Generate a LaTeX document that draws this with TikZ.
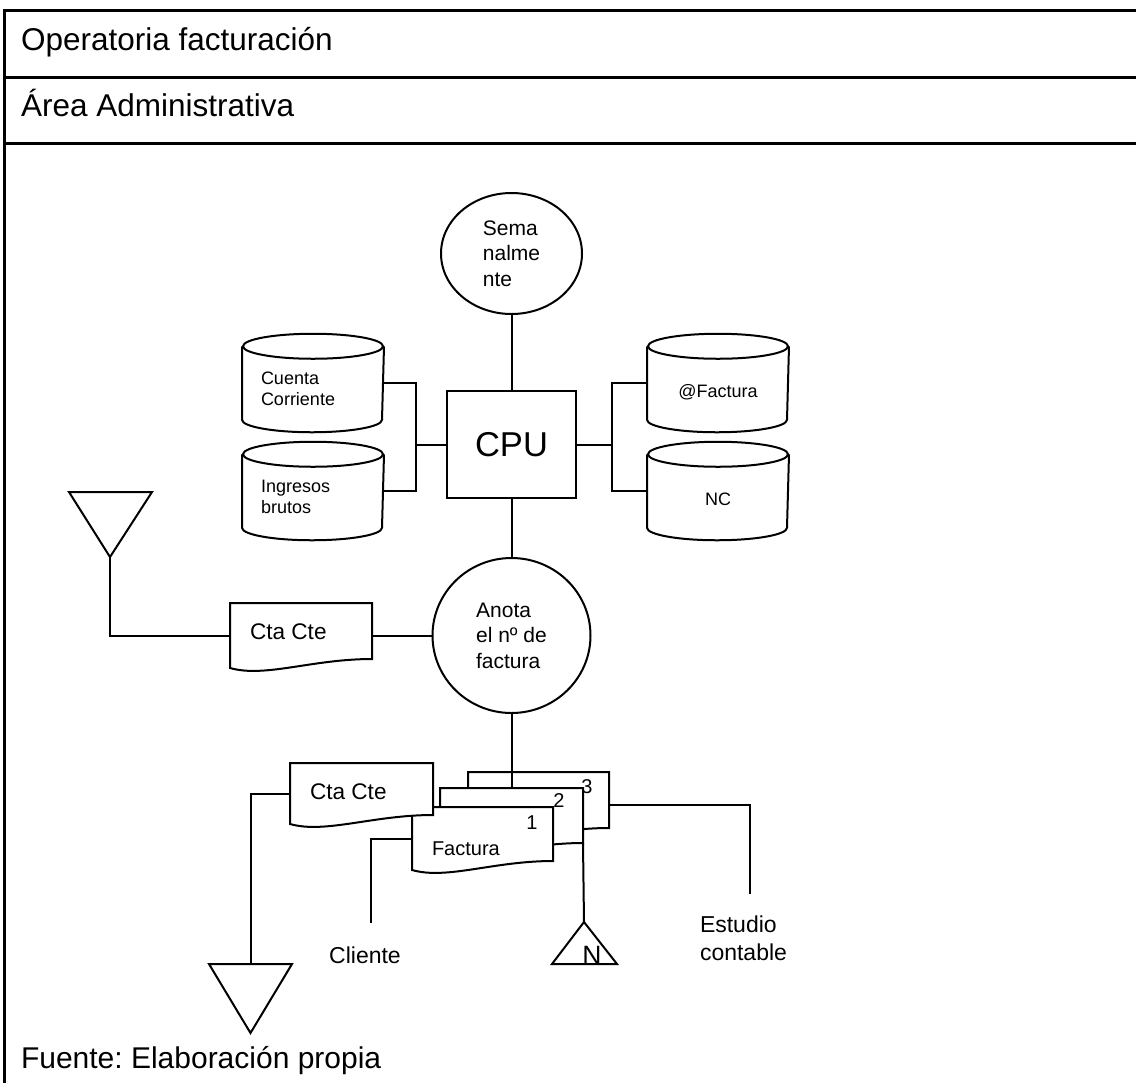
\documentclass[tikz,border=0pt]{standalone}
\usepackage{fontspec}
\setmainfont{Liberation Sans}
\usetikzlibrary{shapes.geometric}
\frenchspacing

\begin{document}
\begin{tikzpicture}[x=0.5pt,y=-0.5pt,line width=1pt,
	frame line/.style={line width=1.5pt},
	proc node/.style={ellipse,draw,inner sep=0pt,align=left,font=\fontsize{10.5}{12.75}\selectfont},
	cpu node/.style={rectangle,draw,inner sep=0pt,minimum width=64.5pt,minimum height=53.5pt,font=\fontsize{17.25}{20}\selectfont},
	db node/.style={rectangle,inner sep=0pt,minimum width=70pt,minimum height=35.75pt},
	db text/.style={align=left,inner sep=0pt,font=\fontsize{9}{10.75}\selectfont},
	doc node/.style={rectangle,inner sep=0pt},
	doc text/.style={inner sep=0pt,anchor=west,font=\fontsize{11.3}{13}\selectfont},
	num text/.style={inner sep=0pt,font=\fontsize{10}{12}\selectfont},
	dest text/.style={inner sep=0pt,align=left,font=\fontsize{11.5}{14}\selectfont},
	head text/.style={inner sep=0pt,anchor=base west,font=\fontsize{15.75}{19}\selectfont}]

	\useasboundingbox (0,0) rectangle (1136,1083);

	% table frame
	\draw[frame line] (1136,10) -- (4,10) -- (4,1083);
	\draw[frame line] (4,77) -- (1136,77);
	\draw[frame line] (4,143) -- (1136,143);
	\node[head text] (tit) at (20,50) {Operatoria facturación};
	\node[head text] (area) at (20,116) {Área Administrativa};
	\node[head text,font=\fontsize{15}{18}\selectfont] (src) at (20,1068) {Fuente: Elaboración propia};

	% process and files
	\node[proc node,minimum width=70.5pt,minimum height=60.5pt] (sem) at (511.5,253.5) {Sema\\nalme\\nte};
	\node[cpu node] (cpu) at (511.5,444.5) {CPU};
	\node[db node] (cc) at (313,383) {};
	\node[db node] (ib) at (313,491) {};
	\node[db node] (fa) at (718,383) {};
	\node[db node] (nc) at (718,491) {};
	\node[proc node,minimum width=79pt,minimum height=77.5pt] (an) at (511.5,635.5) {Anota\\el nº de\\factura};

	\foreach \n in {cc,ib,fa,nc}{
		\draw (\n.north west) -- (\n.south west) arc[start angle=180,end angle=0,x radius=70,y radius=12.5] -- (\n.north east);
		\draw (\n.north) ellipse[x radius=70,y radius=12.5];
	}

	% documents
	\node[doc node,minimum width=70pt,minimum height=31.5pt] (cta) at (301,635.5) {};
	\node[doc node,minimum width=69.5pt,minimum height=31.5pt] (d3) at (538.5,804.5) {};
	\node[doc node,minimum width=70.5pt,minimum height=31pt] (d2) at (511.5,820) {};
	\node[doc node,minimum width=69.5pt,minimum height=30.5pt] (d1) at (482.5,838.5) {};
	\node[doc node,minimum width=70.5pt,minimum height=29.5pt] (ctb) at (361.5,793.5) {};

	\foreach \n in {cta,d3,d2,d1,ctb}{
		\draw[fill=white] (\n.south west) -- (\n.north west) -- (\n.north east) -- ([yshift=4.5pt]\n.south east)
			.. controls ([shift={(-60,-9)}]\n.south east) and ([shift={(35,10)}]\n.south west) .. (\n.south west) -- cycle;
	}

	% archives
	\coordinate (t1) at (110,557);
	\draw (t1) -- (69,492) -- (152,492) -- cycle;
	\coordinate (t2) at (250.5,964);
	\draw (209,964) -- (292,964) -- (250.5,1033) -- cycle;
	\coordinate (tn) at (584,922);
	\draw (tn) -- (552,964) -- (617,964) -- cycle;

	% texts
	\node[db text,anchor=west] at ([shift={(18,6)}]cc.west) {Cuenta\\Corriente};
	\node[db text,anchor=west] at ([shift={(18,6)}]ib.west) {Ingresos\\brutos};
	\node[db text] at ([shift={(0,9)}]fa.center) {@Factura};
	\node[db text] at ([shift={(0,8)}]nc.center) {NC};
	\node[doc text] at ([shift={(19,-3.5)}]cta.west) {Cta Cte};
	\node[doc text] at ([shift={(19,-1.5)}]ctb.west) {Cta Cte};
	\node[doc text,font=\fontsize{10}{12}\selectfont] at ([shift={(19,10.5)}]d1.west) {Factura};
	\node[num text] at ([shift={(-21,16)}]d1.north east) {1};
	\node[num text] at ([shift={(-24,13)}]d2.north east) {2};
	\node[num text] at ([shift={(-22,15)}]d3.north east) {3};
	\node[dest text] (cli) at (365,955) {Cliente};
	\node[dest text,anchor=west] (est) at (699,938.5) {Estudio\\contable};
	\node[inner sep=0pt,anchor=base,font=\fontsize{13.25}{15}\selectfont] (nlab) at (592,964) {N};

	% connectors
	\draw (sem) -- (cpu);
	\draw (cpu) -- (an);
	\coordinate (lj) at (416,444.5);
	\draw (cc.east) -| (lj) |- (ib.east);
	\draw (lj) -- (cpu.west);
	\coordinate (rj) at (612,444.5);
	\draw (fa.west) -| (rj) |- (nc.west);
	\draw (rj) -- (cpu.east);
	\draw (t1) |- (cta.west);
	\draw (cta.east) -- (an.west);
	\draw (an.south) -- (d2.north);
	\draw (ctb.west) -| (t2);
	\coordinate (cliE) at (371,923);
	\draw (d1.west) -| (cliE);
	\coordinate (estE) at (750,894);
	\draw (d3.east) -| (estE);
	\draw ([yshift=4.5pt]d2.south east) -- (tn);
\end{tikzpicture}
\end{document}
